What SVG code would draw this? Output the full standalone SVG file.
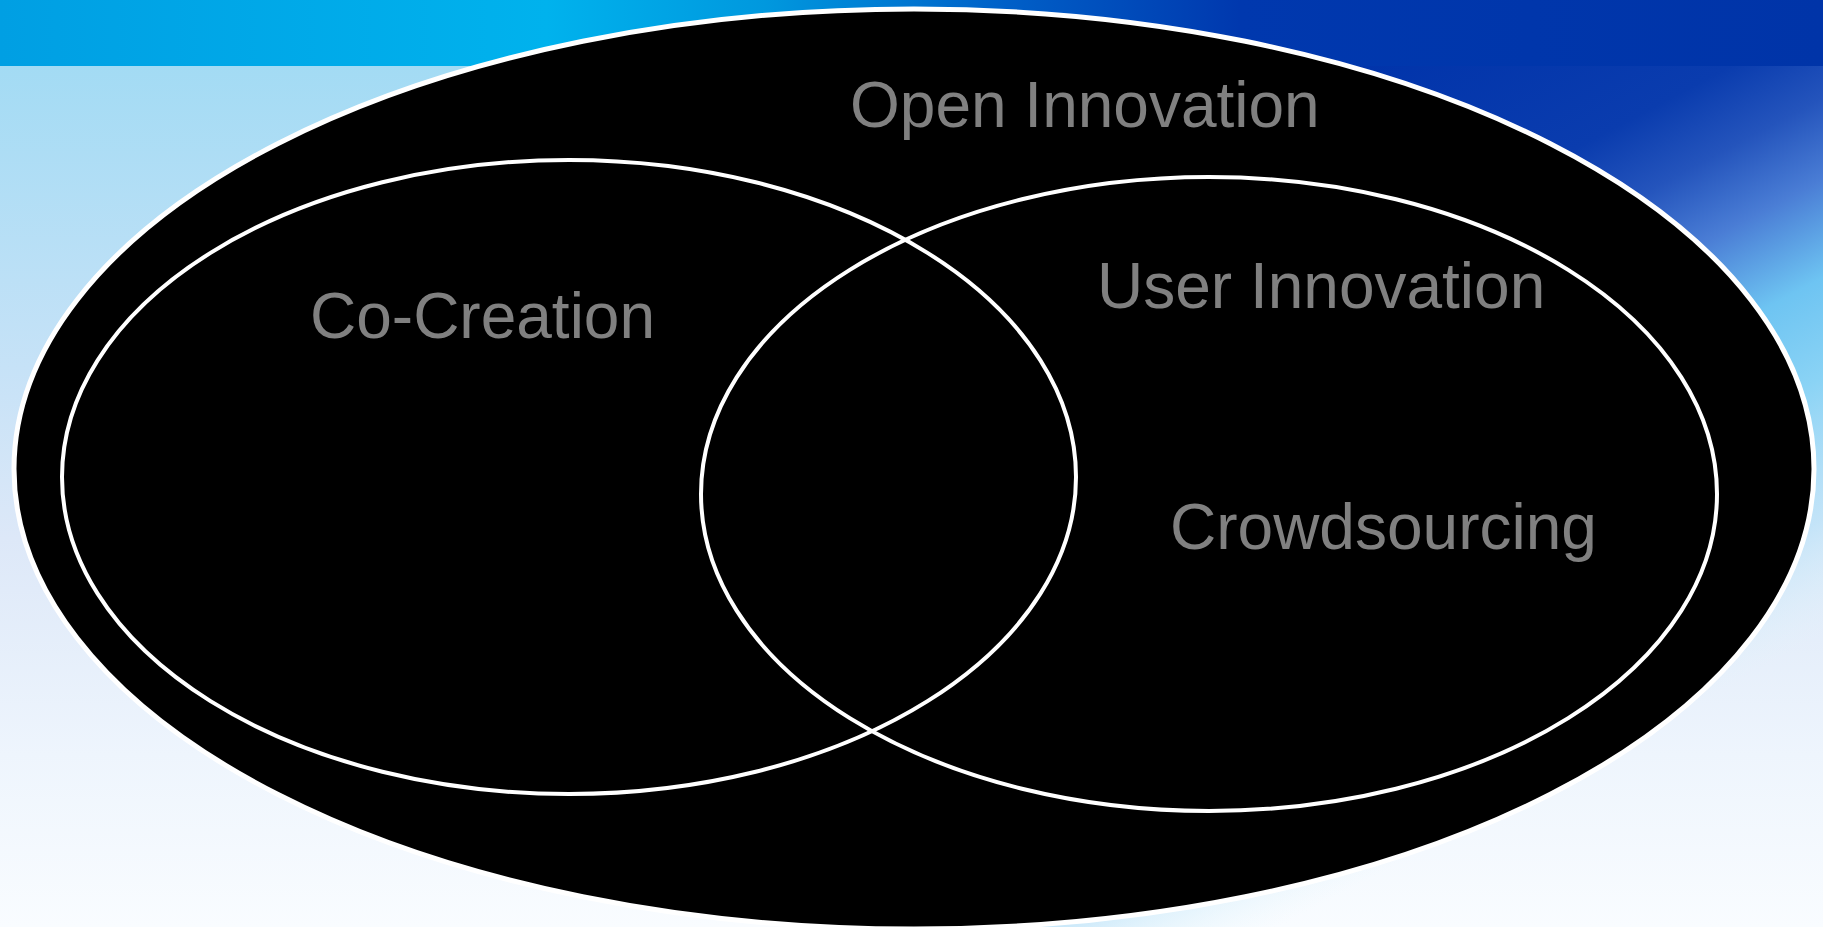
<svg xmlns="http://www.w3.org/2000/svg" width="1823" height="927" viewBox="0 0 1823 927">
  <style>
    .ring { fill: none; stroke: #ffffff; stroke-width: 4; }
    .outer { fill: #000000; stroke: #ffffff; stroke-width: 5; }
    .lbl { font-family: "Liberation Sans", Arial, sans-serif; font-size: 64px; fill: #808080; }
  </style>
  <defs>
    <linearGradient id="bgV" x1="0" y1="66" x2="0" y2="927" gradientUnits="userSpaceOnUse">
      <stop offset="0" stop-color="#A3DBF4"/>
      <stop offset="0.35" stop-color="#C6E2F7"/>
      <stop offset="0.55" stop-color="#DDE8F8"/>
      <stop offset="0.8" stop-color="#EEF5FD"/>
      <stop offset="1" stop-color="#F9FCFF"/>
    </linearGradient>
    <linearGradient id="bar" x1="0" y1="0" x2="1823" y2="0" gradientUnits="userSpaceOnUse">
      <stop offset="0" stop-color="#009FE3"/>
      <stop offset="0.3" stop-color="#00B2ED"/>
      <stop offset="0.42" stop-color="#0098DE"/>
      <stop offset="0.55" stop-color="#0060C8"/>
      <stop offset="0.68" stop-color="#0038AE"/>
      <stop offset="1" stop-color="#0034A8"/>
    </linearGradient>
    <linearGradient id="rightG" x1="1450" y1="0" x2="1823" y2="700" gradientUnits="userSpaceOnUse">
      <stop offset="0" stop-color="#0033AA"/>
      <stop offset="0.24" stop-color="#0A3CAE"/>
      <stop offset="0.33" stop-color="#2454BC"/>
      <stop offset="0.42" stop-color="#4A7DD5"/>
      <stop offset="0.53" stop-color="#6EC4F2"/>
      <stop offset="0.64" stop-color="#8AD3F5"/>
      <stop offset="0.8" stop-color="#BEE3F8" stop-opacity="0.8"/>
      <stop offset="0.93" stop-color="#E2F6FC" stop-opacity="0"/>
    </linearGradient>
  </defs>

  <g id="background">
    <rect x="0" y="0" width="1823" height="927" fill="url(#bgV)"/>
    <rect x="1000" y="60" width="823" height="867" fill="url(#rightG)"/>
    <rect x="0" y="0" width="1823" height="66" fill="url(#bar)"/>
  </g>

  <g id="open-innovation">
    <ellipse class="outer" cx="914" cy="469" rx="900" ry="460"/>
  </g>

  <g id="co-creation">
    <ellipse class="ring" cx="569" cy="477" rx="507" ry="317"/>
  </g>

  <g id="user-innovation">
    <ellipse class="ring" cx="1209" cy="494" rx="508" ry="317"/>
  </g>

  <g id="connectors"></g>

  <g id="labels">
    <text class="lbl" x="850" y="127">Open Innovation</text>
    <text class="lbl" x="310" y="338">Co-Creation</text>
    <text class="lbl" x="1097" y="308">User Innovation</text>
    <text class="lbl" x="1170" y="549">Crowdsourcing</text>
  </g>
</svg>
